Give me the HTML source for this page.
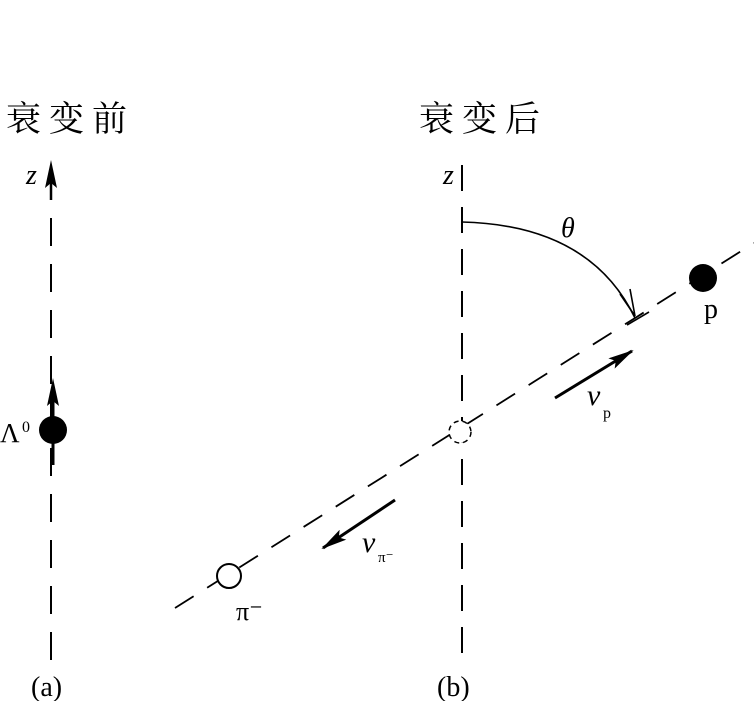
<!DOCTYPE html>
<html><head><meta charset="utf-8"><style>
html,body{margin:0;padding:0;background:#fff;}
svg{display:block;}
text{font-family:"Liberation Serif","Noto Serif CJK SC",serif;fill:#000;}
</style></head><body>
<svg width="754" height="701" viewBox="0 0 754 701">
<defs>
<marker id="ah" markerWidth="26" markerHeight="16" refX="24" refY="8" orient="auto" markerUnits="userSpaceOnUse">
<path d="M0,2 L26,8 L0,14 L5,8 Z" fill="#000"/></marker>
</defs>
<text x="6" y="131" font-size="35" letter-spacing="8" font-family="Noto Sans CJK SC,sans-serif">衰变前</text>
<text x="419" y="131" font-size="35" letter-spacing="8" font-family="Noto Sans CJK SC,sans-serif">衰变后</text>
<!-- left axis -->
<line x1="51" y1="660" x2="51" y2="170" stroke="#000" stroke-width="2" stroke-dasharray="28,18"/>
<path d="M51,160 L45,188 L51,183 L57,188 Z" fill="#000"/>
<line x1="51" y1="180" x2="51" y2="200" stroke="#000" stroke-width="2.5"/>
<text x="26" y="184" font-size="28" font-style="italic">z</text>
<line x1="53" y1="465" x2="53" y2="390" stroke="#000" stroke-width="3"/>
<path d="M53,378 L47,406 L53,401 L59,406 Z" fill="#000"/>
<circle cx="53" cy="430" r="14" fill="#000"/>
<text x="0" y="442" font-size="27">Λ</text>
<text x="22" y="432" font-size="16">0</text>
<!-- right axis -->
<line x1="462" y1="165" x2="462" y2="660" stroke="#000" stroke-width="2" stroke-dasharray="26,16"/>
<text x="443" y="184" font-size="28" font-style="italic">z</text>
<!-- diagonal -->
<line x1="175" y1="608" x2="754" y2="243" stroke="#000" stroke-width="1.8" stroke-dasharray="22,16"/>
<circle cx="460" cy="432" r="11" fill="#fff" stroke="#000" stroke-width="1.5" stroke-dasharray="5,4"/>
<!-- arc -->
<path d="M462,222 Q590,225 635,318" fill="none" stroke="#000" stroke-width="1.6"/>
<path d="M620,294 L635,316 L630,289" fill="none" stroke="#000" stroke-width="1.6"/>
<line x1="627" y1="325" x2="649" y2="312" stroke="#000" stroke-width="1.6"/>
<text x="561" y="237" font-size="28" font-style="italic">θ</text>
<circle cx="703" cy="278" r="14" fill="#000"/>
<text x="704" y="318" font-size="28">p</text>
<!-- v_p -->
<line x1="555" y1="398" x2="632" y2="351" stroke="#000" stroke-width="3" marker-end="url(#ah)"/>
<text x="587" y="405" font-size="30" font-style="italic">v</text>
<text x="603" y="418" font-size="16">p</text>
<!-- v_pi -->
<line x1="395" y1="500" x2="323" y2="548" stroke="#000" stroke-width="3" marker-end="url(#ah)"/>
<text x="362" y="552" font-size="30" font-style="italic">v</text>
<text x="378" y="562" font-size="15">π⁻</text>
<circle cx="229" cy="576" r="12" fill="#fff" stroke="#000" stroke-width="2"/>
<text x="236" y="620" font-size="26">π⁻</text>
<text x="31" y="696" font-size="28">(a)</text>
<text x="437" y="696" font-size="28">(b)</text>
</svg>
</body></html>
